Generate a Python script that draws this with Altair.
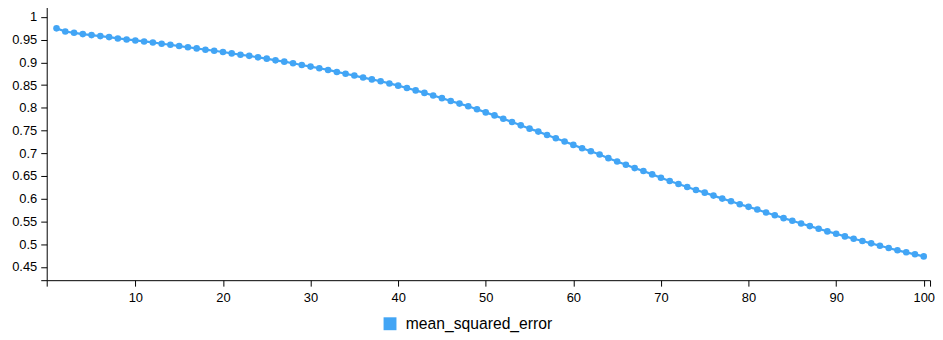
import altair as alt
import pandas as pd

# x positions (epochs)
epochs = list(range(1, 101))

# mean_squared_error values
mse = [
    0.9748, 0.9679, 0.9650, 0.9621, 0.9599, 0.9577, 0.9555, 0.9526, 0.9504, 0.9482,
    0.9460, 0.9438, 0.9409, 0.9387, 0.9358, 0.9332, 0.9307, 0.9278, 0.9256, 0.9227,
    0.9197, 0.9168, 0.9143, 0.9110, 0.9081, 0.9044, 0.9015, 0.8979, 0.8942, 0.8906,
    0.8869, 0.8833, 0.8789, 0.8748, 0.8709, 0.8665, 0.8625, 0.8583, 0.8536, 0.8487,
    0.8436, 0.8383, 0.8328, 0.8271, 0.8212, 0.8151, 0.8092, 0.8035, 0.7968, 0.7899,
    0.7833, 0.7760, 0.7687, 0.7614, 0.7541, 0.7476, 0.7403, 0.7330, 0.7257, 0.7184,
    0.7111, 0.7045, 0.6972, 0.6892, 0.6819, 0.6746, 0.6673, 0.6608, 0.6535, 0.6462,
    0.6389, 0.6323, 0.6257, 0.6192, 0.6133, 0.6068, 0.6002, 0.5944, 0.5878, 0.5820,
    0.5761, 0.5696, 0.5637, 0.5572, 0.5513, 0.5455, 0.5397, 0.5338, 0.5280, 0.5229,
    0.5170, 0.5119, 0.5068, 0.5017, 0.4966, 0.4915, 0.4864, 0.4820, 0.4776, 0.4730,
]

series_name = "mean_squared_error"
series_color = "#42a5f5"

x_domain = [-0.12, 100.72]
y_domain = [0.4207, 1.0256]
x_ticks = [-0.12, 10, 20, 30, 40, 50, 60, 70, 80, 90, 100, 100.72]
y_ticks = [0.4207, 0.45, 0.5, 0.55, 0.6, 0.65, 0.7, 0.75, 0.8, 0.85, 0.9, 0.95, 1.0, 1.0256]

df = pd.DataFrame({"x": epochs, "y": mse, "series": [series_name] * len(epochs)})

color = alt.Color(
    "series:N",
    scale=alt.Scale(domain=[series_name], range=[series_color]),
    legend=alt.Legend(
        title=None,
        orient="none",
        legendX=338,
        legendY=313,
        symbolType="square",
        symbolSize=169,
        symbolFillColor=series_color,
        symbolStrokeColor=series_color,
        symbolStrokeWidth=0,
        symbolOpacity=1,
        labelFontSize=15.8,
        labelFont="Liberation Sans",
        labelColor="#000000",
        labelOffset=8,
        padding=0,
    ),
)

x_enc = alt.X(
    "x:Q",
    scale=alt.Scale(domain=x_domain, nice=False, zero=False),
    axis=alt.Axis(
        title=None,
        values=x_ticks,
        labelExpr="(datum.value >= 10 && datum.value <= 100) ? format(datum.value, 'd') : ''",
        labelPadding=5,
        domainColor="#000000",
        tickColor="#000000",
    ),
)
y_enc = alt.Y(
    "y:Q",
    scale=alt.Scale(domain=y_domain, nice=False, zero=False),
    axis=alt.Axis(
        title=None,
        values=y_ticks,
        labelExpr="(datum.value >= 0.449 && datum.value <= 1.001) ? format(datum.value, '~g') : ''",
        labelPadding=4,
        domainColor="#000000",
        tickColor="#000000",
    ),
)

base = alt.Chart(df).encode(x=x_enc, y=y_enc, color=color)
line = base.mark_line(strokeWidth=2.2)
points = base.mark_point(filled=True, size=44, opacity=1)

chart = (
    alt.layer(line, points)
    .properties(
        width=890,
        height=277,
        padding={"left": 39, "top": -4, "right": 5, "bottom": 55},
        autosize=alt.AutoSizeParams(type="none"),
    )
    .configure_view(stroke=None)
    .configure_axis(
        grid=False,
        domainColor="#000000",
        domainWidth=1,
        tickColor="#000000",
        tickSize=6,
        labelColor="#000000",
        labelFont="Liberation Sans",
        labelFontSize=13,
    )
)

chart.save("out.html", embed_options={"renderer": "svg", "actions": False})
